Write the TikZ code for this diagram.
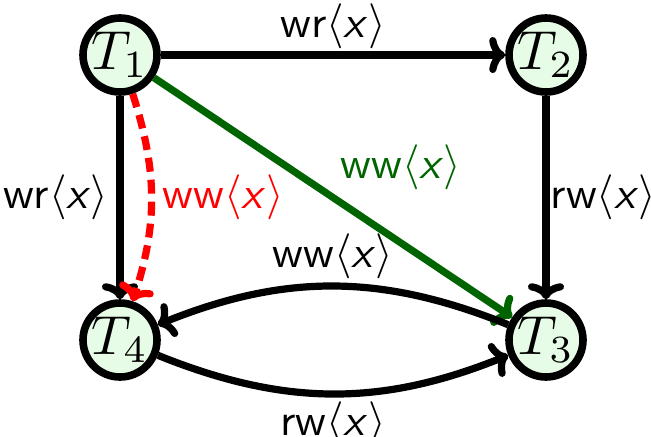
\documentclass[tikz,border=0pt]{standalone}
\usepackage{graphicx}
\usetikzlibrary{arrows.meta}
\definecolor{nodefill}{RGB}{230,252,230}
\definecolor{dgreen}{RGB}{0,100,0}
\newcommand{\bigtxt}[1]{\scalebox{2.75}{#1}}
\newcommand{\lbltxt}[1]{\scalebox{2.25}{\sffamily #1$\langle$\textit{x}$\rangle$}}
\begin{document}
\begin{tikzpicture}[x=0.5pt,y=0.5pt,
  tnode/.style={circle, draw, line width=3.8pt, fill=nodefill, minimum size=37pt, inner sep=0pt},
  edge/.style={line width=3.6pt, -{To[length=8pt,width=18pt]}},
  lbl/.style={inner sep=2pt}]
\useasboundingbox (0,0) rectangle (651,-436);
\node[tnode] (T1) at (120,-55) {\bigtxt{$T_1$}};
\node[tnode] (T2) at (546,-55) {\bigtxt{$T_2$}};
\node[tnode] (T3) at (546,-340) {\bigtxt{$T_3$}};
\node[tnode] (T4) at (120,-340) {\bigtxt{$T_4$}};
\draw[edge] (T1) -- node[lbl, above, inner sep=1.5pt] {\lbltxt{wr}} (T2);
\draw[edge] (T1) -- node[lbl, left, inner sep=4pt] {\lbltxt{wr}} (T4);
\draw[edge] (T2) -- node[lbl, right, inner sep=0.5pt] {\lbltxt{rw}} (T3);
\draw[edge, dgreen] (T1) -- node[lbl, above right] {\color{dgreen}\lbltxt{ww}} (T3);
\draw[edge, red, dash pattern=on 7pt off 4pt] (T1.-72) to[out=-72, in=72] node[lbl, right, inner sep=4pt] {\color{red}\lbltxt{ww}} (T4.72);
\draw[edge] (T3) to[bend right=22] node[lbl, above] {\lbltxt{ww}} (T4);
\draw[edge] (T4) to[bend right=22] node[lbl, below] {\lbltxt{rw}} (T3);
\end{tikzpicture}
\end{document}
